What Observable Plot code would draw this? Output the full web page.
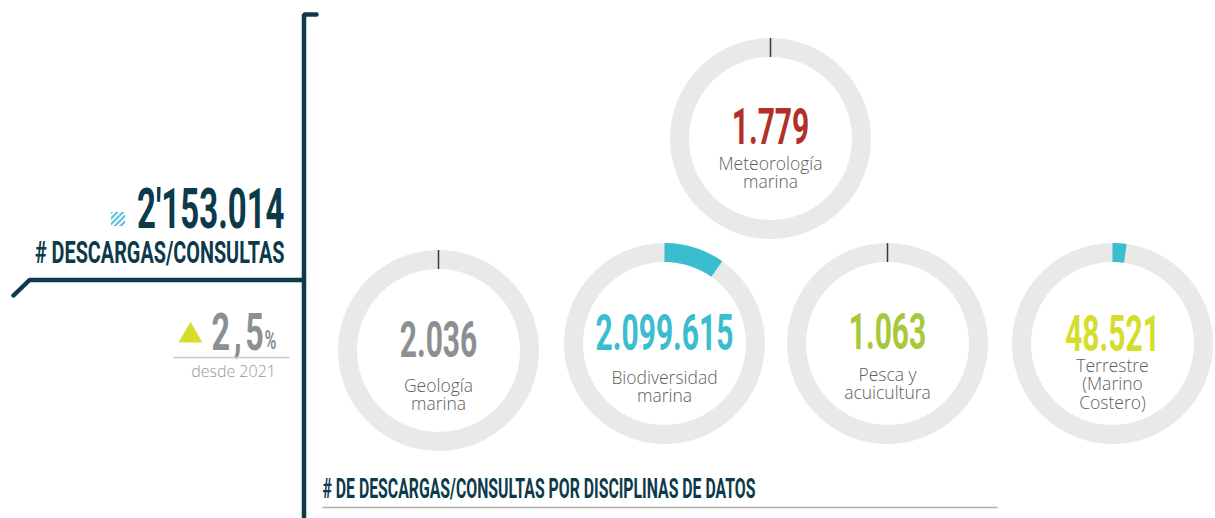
<!DOCTYPE html>
<html><head><meta charset="utf-8">
<script src="https://cdn.jsdelivr.net/npm/d3@7"></script>
<script src="https://cdn.jsdelivr.net/npm/@observablehq/plot@0.6"></script>
<style>html,body{margin:0;padding:0;background:#fff;overflow:hidden}</style>
</head><body><div id="chart"></div>
<script>
// ---------- DATA ----------
const disciplinas = ["Meteorología\nmarina", "Geología\nmarina", "Biodiversidad\nmarina", "Pesca y\nacuicultura", "Terrestre\n(Marino\nCostero)"];
const descargas = [1779, 2036, 2099615, 1063, 48521];
// share of each ring that is filled
const arcoLeido = [0.0008, 0.0009, 0.0975, 0.0005, 0.0225];
const crecimiento = [2.5];
const periodo = ["desde 2021"];
const tituloTotal = ["# DESCARGAS/CONSULTAS"];
const tituloDisciplinas = ["# DE DESCARGAS/CONSULTAS POR DISCIPLINAS DE DATOS"];

// ---------- STYLE / LAYOUT ----------
const colorValor = ["#b2302a", "#8b9093", "#3bbdd0", "#a7c83a", "#d5dd2b"];
const navy = "#0c3a4b";
const L = {
  cx: [770, 438, 664, 887, 1112],
  cy: [138, 350, 343, 343, 343],
  numTop: [108, 321, 314, 313, 315],
  labTop: [156, 378, 370, 367, 358]
};
const ringR = 91, ringW = 19;

const es = d3.formatLocale({decimal: ",", thousands: ".", grouping: [3], currency: ["$", ""]});
const fmtMil = es.format(",d");
const fmtPct = es.format(".1f");
const total = d3.sum(descargas);
const totalTxt = fmtMil(total).replace(".", "'");

const donuts = disciplinas.map((d, i) => ({
  label: d, value: descargas[i], arc: arcoLeido[i],
  cx: L.cx[i], cy: L.cy[i], numTop: L.numTop[i], labTop: L.labTop[i], color: colorValor[i]
}));
const arcPts = donuts.filter(d => d.arc * 360 >= 1).flatMap(d => {
  const n = Math.max(2, Math.ceil(d.arc * 360) + 1);
  return d3.range(n).map(k => {
    const a = d.arc * 2 * Math.PI * k / (n - 1);
    return {i: d.label, x: d.cx + ringR * Math.sin(a), y: d.cy - ringR * Math.cos(a)};
  });
});

const frameV = [{x: 316, y: 14}, {x: 303.5, y: 14}, {x: 303.5, y: 530}];
const frameH = [{x: 13, y: 295}, {x: 29, y: 279.5}, {x: 303.5, y: 279.5}];

const bold = {fontFamily: "Roboto", fontWeight: "bold", lineAnchor: "top"};

const svg = Plot.plot({
  width: 1215, height: 518, margin: 0,
  x: {domain: [0, 1215], range: [0, 1215], axis: null},
  y: {domain: [0, 518], range: [0, 518], axis: null},
  color: {type: "identity"},
  style: {background: "#fff"},
  marks: [
    // rings
    Plot.dot(donuts, {x: "cx", y: "cy", r: ringR, stroke: "#e9e9e9", strokeWidth: ringW, fill: "none"}),
    Plot.line(arcPts, {x: "x", y: "y", z: "i", stroke: "#3bbdd0", strokeWidth: ringW, strokeLinecap: "butt", curve: "linear"}),
    Plot.link(donuts.filter(d => d.arc * 360 < 1), {x1: "cx", x2: "cx", y1: d => d.cy - ringR - ringW / 2, y2: d => d.cy - ringR + ringW / 2, stroke: "#3a3a3a", strokeWidth: 1.5}),
    // values
    Plot.text(donuts, {...bold, x: "cx", y: "numTop", text: d => fmtMil(d.value), fill: "color", fontSize: 50}),
    Plot.text(donuts, {x: "cx", y: "labTop", text: "label", fill: "#5e5e5e", fontSize: 17.5, fontFamily: "Open Sans", fontWeight: 300, lineAnchor: "top", lineHeight: 1.06}),
    // frame
    Plot.line(frameV, {x: "x", y: "y", stroke: navy, strokeWidth: 4.5, strokeLinejoin: "miter"}),
    Plot.line(frameH, {x: "x", y: "y", stroke: navy, strokeWidth: 4.5, strokeLinecap: "round", strokeLinejoin: "miter"}),
    // total
    Plot.rect([0], {x1: 111, x2: 125, y1: 212, y2: 226, fill: "url(#hatch)"}),
    Plot.text([totalTxt], {...bold, x: 284, y: 188, text: d => d, textAnchor: "end", fill: navy, fontSize: 55}),
    Plot.text(tituloTotal, {...bold, x: 284, y: 240, text: d => d, textAnchor: "end", fill: navy, fontSize: 32}),
    // growth
    Plot.dot(crecimiento, {x: 190, y: 335, symbol: "triangle", r: 8.9, fill: "#d5dd2b", stroke: "none"}),
    Plot.text(crecimiento, {...bold, x: 211, y: 313, text: d => fmtPct(d), textAnchor: "start", fill: "#8b9093", fontSize: 52}),
    Plot.text(["%"], {...bold, x: 264, y: 330, text: d => d, textAnchor: "start", fill: "#8b9093", fontSize: 26}),
    Plot.link([0], {x1: 173, x2: 289, y1: 357, y2: 357, stroke: "#c9c9c9", strokeWidth: 1.5}),
    Plot.text(periodo, {x: 233, y: 365, text: d => d, textAnchor: "middle", fill: "#999", fontSize: 16, fontFamily: "Open Sans", fontWeight: 300, lineAnchor: "top"}),
    // bottom title
    Plot.text(tituloDisciplinas, {...bold, x: 322, y: 478, text: d => d, textAnchor: "start", fill: navy, fontSize: 28}),
    Plot.link([0], {x1: 322, x2: 997, y1: 507, y2: 507, stroke: "#b0b0b0", strokeWidth: 1.5})
  ]
});

// hatch pattern
const defs = document.createElementNS("http://www.w3.org/2000/svg", "defs");
defs.innerHTML = '<pattern id="hatch" patternUnits="userSpaceOnUse" width="4" height="4" patternTransform="rotate(45)"><rect width="2" height="4" fill="#4fc3dc"/></pattern>';
svg.insertBefore(defs, svg.firstChild);

// condensed display type: horizontal squeeze per text string
const squeeze = new Map();
donuts.forEach(d => squeeze.set(fmtMil(d.value), [0.6]));
squeeze.set(totalTxt, [0.6]);
squeeze.set(tituloTotal[0], [0.62]);
squeeze.set(tituloDisciplinas[0], [0.565]);
squeeze.set(fmtPct(crecimiento[0]), [0.62, "6px"]);
squeeze.set("%", [0.62]);

svg.querySelectorAll("text").forEach(t => {
  const s = squeeze.get(t.textContent);
  if (!s) return;
  const x = t.getAttribute("x");
  if (x != null && isFinite(+x) && +x !== 0) t.setAttribute("x", +x / s[0]);
  const tr = t.getAttribute("transform") || "";
  t.setAttribute("transform", tr + ` scale(${s[0]},1)`);
  if (s[1]) t.style.letterSpacing = s[1];
});

document.getElementById("chart").appendChild(svg);
</script>
</body></html>
